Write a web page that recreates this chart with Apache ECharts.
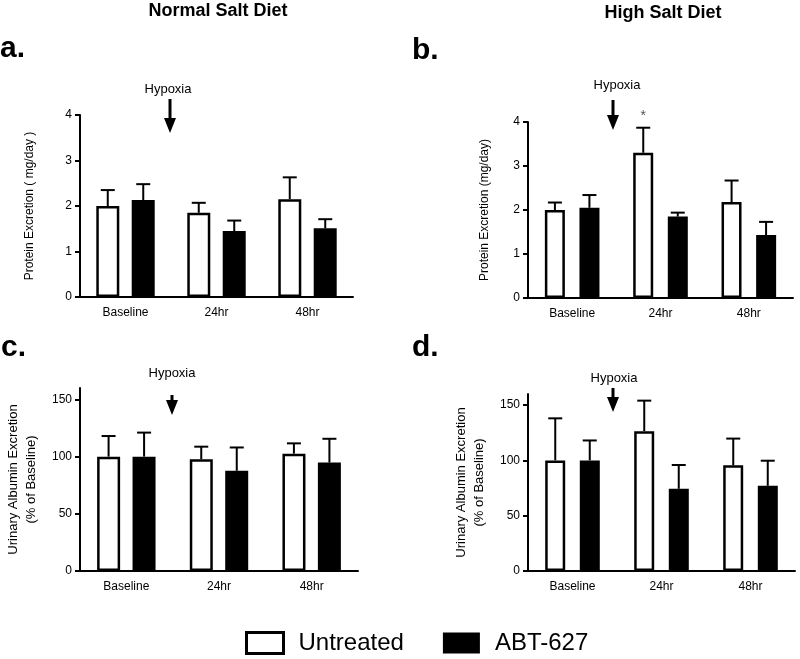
<!DOCTYPE html>
<html><head><meta charset="utf-8">
<script src="https://cdn.jsdelivr.net/npm/echarts@6/dist/echarts.min.js"></script>
<style>html,body{margin:0;padding:0;background:#fff}#c{width:800px;height:659px}</style>
</head><body><div id="c"></div>
<script>
// ---------- data ----------
const categories = ['Baseline', '24hr', '48hr'];
const groupNames = ['Untreated', 'ABT-627'];

// a. Normal salt – protein excretion (mg/day)
const aUntreatedMean = [2.0, 1.85, 2.15];
const aUntreatedSem  = [0.35, 0.22, 0.48];
const aAbtMean       = [2.13, 1.45, 1.51];
const aAbtSem        = [0.35, 0.23, 0.20];
// b. High salt – protein excretion (mg/day)
const bUntreatedMean = [2.0, 3.3, 2.18];
const bUntreatedSem  = [0.17, 0.57, 0.49];
const bAbtMean       = [2.05, 1.85, 1.43];
const bAbtSem        = [0.29, 0.09, 0.30];
const bUntreatedSig  = ['', '*', ''];
// c. Normal salt – urinary albumin (% of baseline)
const cUntreatedMean = [100, 97.7, 102.6];
const cUntreatedSem  = [18, 11, 9];
const cAbtMean       = [100, 87.6, 94.8];
const cAbtSem        = [21, 20.4, 20.8];
// d. High salt – urinary albumin (% of baseline)
const dUntreatedMean = [100, 126.4, 95.5];
const dUntreatedSem  = [38, 27.6, 24.2];
const dAbtMean       = [100, 74.3, 77];
const dAbtSem        = [18, 21.5, 22.7];

const proteinTicks = [0, 1, 2, 3, 4];
const albuminTicks = [0, 50, 100, 150];

// ---------- chart ----------
const FONT = '"Liberation Sans", Arial, sans-serif';
const chart = echarts.init(document.getElementById('c'), null, {renderer: 'canvas'});

const panels = [
  {grid: {left: 80, right: 447, top: 115, bottom: 362}, max: 4, ticks: proteinTicks,
   name: 'Protein Excretion ( mg/day )', nameGap: 42, nameSize: 12,
   u: aUntreatedMean, us: aUntreatedSem, k: aAbtMean, ks: aAbtSem, sig: null, bw: 23, gapPx: 12.5},
  {grid: {left: 528, right: 7, top: 122, bottom: 361}, max: 4, ticks: proteinTicks,
   name: 'Protein Excretion (mg/day)', nameGap: 35, nameSize: 12,
   u: bUntreatedMean, us: bUntreatedSem, k: bAbtMean, ks: bAbtSem, sig: bUntreatedSig, bw: 20, gapPx: 14.5},
  {grid: {left: 80, right: 442, top: 388, bottom: 88}, max: 160, ticks: albuminTicks,
   name: 'Urinary Albumin Excretion\n(% of Baseline)', nameGap: 40, nameSize: 13,
   u: cUntreatedMean, us: cUntreatedSem, k: cAbtMean, ks: cAbtSem, sig: null, bw: 23, gapPx: 12.5},
  {grid: {left: 528, right: 5, top: 394, bottom: 88}, max: 160, ticks: albuminTicks,
   name: 'Urinary Albumin Excretion\n(% of Baseline)', nameGap: 40, nameSize: 13,
   u: dUntreatedMean, us: dUntreatedSem, k: dAbtMean, ks: dAbtSem, sig: null, bw: 20, gapPx: 14.5}
];

const grids = [], xAxes = [], yAxes = [], series = [];

function errRender(offset, sig) {
  return function (params, api) {
    const x = api.value(0), m = api.value(1), s = api.value(2);
    const p0 = api.coord([x, m]);
    const p1 = api.coord([x, m + s]);
    const cx = p0[0] + offset;
    const st = {stroke: '#000', lineWidth: 2};
    const children = [
      {type: 'line', shape: {x1: cx, y1: p0[1], x2: cx, y2: p1[1]}, style: st},
      {type: 'line', shape: {x1: cx - 7, y1: p1[1], x2: cx + 7, y2: p1[1]}, style: st}
    ];
    if (sig && sig[params.dataIndex]) {
      children.push({type: 'text', x: cx, y: p1[1] - 12,
        style: {text: sig[params.dataIndex], fill: '#555', font: '14px ' + FONT,
                align: 'center', verticalAlign: 'middle'}});
    }
    return {type: 'group', children};
  };
}

panels.forEach((p, i) => {
  grids.push(Object.assign({containLabel: false}, p.grid));
  xAxes.push({
    gridIndex: i, type: 'category', data: categories,
    axisLine: {lineStyle: {color: '#000', width: 2}},
    axisTick: {alignWithLabel: true, length: 4, lineStyle: {color: '#000', width: 2}},
    axisLabel: {color: '#000', fontSize: 12, fontFamily: FONT, margin: 10}
  });
  yAxes.push({
    gridIndex: i, type: 'value', min: 0, max: p.max,
    interval: p.ticks[1] - p.ticks[0],
    axisLine: {show: true, lineStyle: {color: '#000', width: 2}},
    axisTick: {show: true, length: 5, lineStyle: {color: '#000', width: 2}, customValues: p.ticks},
    axisLabel: {color: '#000', fontSize: 12, fontFamily: FONT, margin: 8, customValues: p.ticks},
    splitLine: {show: false},
    name: p.name, nameLocation: 'middle', nameGap: p.nameGap,
    nameTextStyle: {color: '#000', fontSize: p.nameSize, fontFamily: FONT, lineHeight: p.nameSize + 5}
  });
  const barGap = (p.gapPx / p.bw * 100).toFixed(0) + '%';
  const off = (p.bw + p.gapPx) / 2;
  series.push({
    type: 'bar', name: groupNames[0], xAxisIndex: i, yAxisIndex: i,
    data: p.u, barWidth: p.bw, barGap: barGap,
    itemStyle: {color: '#fff', borderColor: '#000', borderWidth: 2.5}
  });
  series.push({
    type: 'bar', name: groupNames[1], xAxisIndex: i, yAxisIndex: i,
    data: p.k, barWidth: p.bw, barGap: barGap,
    itemStyle: {color: '#000', borderColor: '#000', borderWidth: 2.5}
  });
  series.push({
    type: 'custom', xAxisIndex: i, yAxisIndex: i, z: 5, silent: true,
    renderItem: errRender(-off, p.sig),
    data: p.u.map((v, j) => [j, v, p.us[j]])
  });
  series.push({
    type: 'custom', xAxisIndex: i, yAxisIndex: i, z: 5, silent: true,
    renderItem: errRender(off, null),
    data: p.k.map((v, j) => [j, v, p.ks[j]])
  });
});

function arrow(x, y1, y2) {
  return {type: 'group', children: [
    {type: 'line', shape: {x1: x, y1: y1, x2: x, y2: y2 - 8}, style: {stroke: '#000', lineWidth: 3}},
    {type: 'polygon', shape: {points: [[x - 6, y2 - 15], [x + 6, y2 - 15], [x, y2]]}, style: {fill: '#000'}}
  ]};
}
function txt(x, y, s, font, align) {
  return {type: 'text', x: x, y: y, style: {text: s, font: font, fill: '#000',
          textAlign: align || 'center', textVerticalAlign: 'middle'}};
}

const graphic = [
  txt(218, 11, 'Normal Salt Diet', 'bold 18px ' + FONT),
  txt(663, 13, 'High Salt Diet', 'bold 18px ' + FONT),
  txt(0, 49, 'a.', 'bold 30px ' + FONT, 'left'),
  txt(412, 51, 'b.', 'bold 30px ' + FONT, 'left'),
  txt(1, 348, 'c.', 'bold 30px ' + FONT, 'left'),
  txt(412, 348, 'd.', 'bold 30px ' + FONT, 'left'),
  txt(168, 89, 'Hypoxia', '13px ' + FONT),
  txt(617, 85, 'Hypoxia', '13px ' + FONT),
  txt(172, 373, 'Hypoxia', '13px ' + FONT),
  txt(614, 378, 'Hypoxia', '13px ' + FONT),
  arrow(170, 99, 133),
  arrow(613, 100, 130),
  arrow(172, 395, 415),
  arrow(613, 388, 412)
];

chart.setOption({
  animation: false,
  backgroundColor: '#fff',
  grid: grids, xAxis: xAxes, yAxis: yAxes, series: series,
  graphic: graphic,
  legend: {
    data: [
      {name: groupNames[0], itemStyle: {color: '#fff', borderColor: '#000', borderWidth: 3}},
      {name: groupNames[1], itemStyle: {color: '#000', borderColor: '#000', borderWidth: 0}}
    ],
    left: 245, top: 631, padding: 0, itemWidth: 37, itemHeight: 21, itemGap: 39,
    icon: 'rect',
    textStyle: {color: '#000', fontSize: 24, fontFamily: FONT, padding: [0, 0, 0, 10]},
    selectedMode: false
  }
});
</script></body></html>
